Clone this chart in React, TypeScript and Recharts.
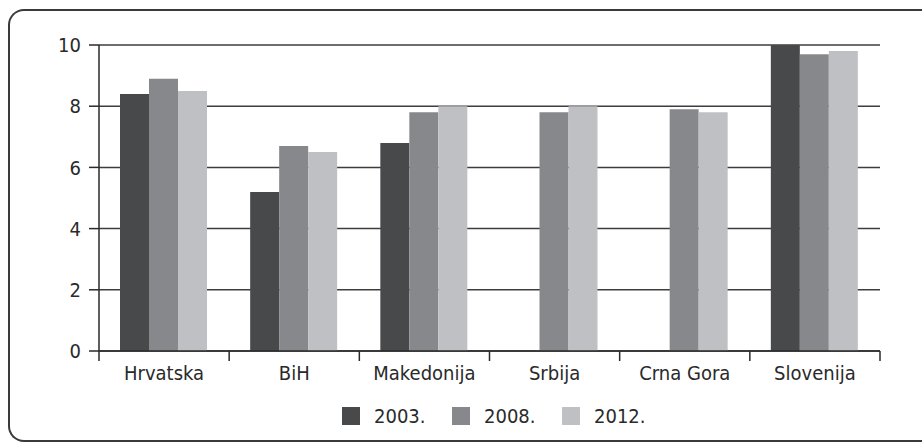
import { Bar, BarChart, CartesianGrid, Legend, XAxis, YAxis } from "recharts";

const CATEGORIES = ['Hrvatska', 'BiH', 'Makedonija', 'Srbija', 'Crna Gora', 'Slovenija'];
const Y2003 = [8.4, 5.2, 6.8, null, null, 10];
const Y2008 = [8.9, 6.7, 7.8, 7.8, 7.9, 9.7];
const Y2012 = [8.5, 6.5, 8.0, 8.0, 7.8, 9.8];
const Y_TICKS = [0, 2, 4, 6, 8, 10];

const SERIES = [
    { key: 'y2003', name: '2003.', color: '#48494b' },
    { key: 'y2008', name: '2008.', color: '#87888c' },
    { key: 'y2012', name: '2012.', color: '#bfc0c3' },
];

const data = CATEGORIES.map((name, i) => ({
    name,
    y2003: Y2003[i],
    y2008: Y2008[i],
    y2012: Y2012[i],
}));

const W = 922;
const H = 443;
const M = { top: 45, right: 42, left: 39, bottom: 42 };
const Y_W = 60;
const PLOT_LEFT = M.left + Y_W;
const PLOT_BOTTOM = 351;
const BAND = (W - PLOT_LEFT - M.right) / CATEGORIES.length;

const FONT = "'Liberation Sans Narrow', 'DejaVu Sans Condensed', sans-serif";
const INK = '#2a2a2a';

const CategoryTick = ({ x, payload, index }: any) => {
    const last = index === CATEGORIES.length - 1;
    return (
        <g>
            <line x1={x - BAND / 2} x2={x - BAND / 2} y1={PLOT_BOTTOM} y2={PLOT_BOTTOM + 10} stroke={INK} strokeWidth={1.5} />
            {last && (
                <line x1={x + BAND / 2} x2={x + BAND / 2} y1={PLOT_BOTTOM} y2={PLOT_BOTTOM + 10} stroke={INK} strokeWidth={1.5} />
            )}
            <text x={x} y={PLOT_BOTTOM + 29} textAnchor="middle" fontSize={20} fontFamily={FONT} fill={INK}>
                {payload.value}
            </text>
        </g>
    );
};

const LegendContent = () => (
    <div style={{ display: 'flex', height: 20, alignItems: 'center', fontFamily: FONT, fontSize: 20, color: INK }}>
        {SERIES.map((s) => (
            <div key={s.key} style={{ display: 'flex', alignItems: 'center', width: 110 }}>
                <span style={{ width: 18, height: 18, background: s.color, display: 'inline-block', marginRight: 14 }} />
                <span>{s.name}</span>
            </div>
        ))}
    </div>
);

const App = () => {
    return (
        <div style={{ position: 'fixed', left: 0, top: 0, width: W, height: H, overflow: 'hidden', background: '#fff' }}>
            <div
                style={{
                    position: 'absolute',
                    left: 8,
                    top: 9,
                    width: W - 8,
                    height: 433,
                    borderTop: '2px solid #3a3a3a',
                    borderLeft: '2px solid #3a3a3a',
                    borderBottom: '2px solid #3a3a3a',
                    borderTopLeftRadius: 16,
                    borderBottomLeftRadius: 16,
                    boxSizing: 'border-box',
                }}
            />
            <div style={{ position: 'absolute', left: 0, top: 0 }}>
                <BarChart width={W} height={H} data={data} margin={M} barCategoryGap={21} barGap={0}>
                    <CartesianGrid vertical={false} stroke="#3d3d3d" strokeWidth={1.5} />
                    <XAxis
                        dataKey="name"
                        tickLine={false}
                        axisLine={{ stroke: INK, strokeWidth: 1.5 }}
                        tick={<CategoryTick />}
                        height={30}
                        interval={0}
                    />
                    <YAxis
                        width={Y_W}
                        domain={[0, 10]}
                        ticks={Y_TICKS}
                        tickSize={10}
                        tickMargin={8}
                        tickLine={{ stroke: INK, strokeWidth: 1.5 }}
                        axisLine={{ stroke: INK, strokeWidth: 1.5 }}
                        tick={{ fill: INK, fontSize: 20, fontFamily: FONT }}
                    />
                    <Legend
                        content={<LegendContent />}
                        wrapperStyle={{ left: 342, top: 406, width: 330, height: 20 }}
                    />
                    {SERIES.map((s) => (
                        <Bar key={s.key} dataKey={s.key} name={s.name} fill={s.color} isAnimationActive={false} />
                    ))}
                </BarChart>
            </div>
        </div>
    );
};

export default App;
